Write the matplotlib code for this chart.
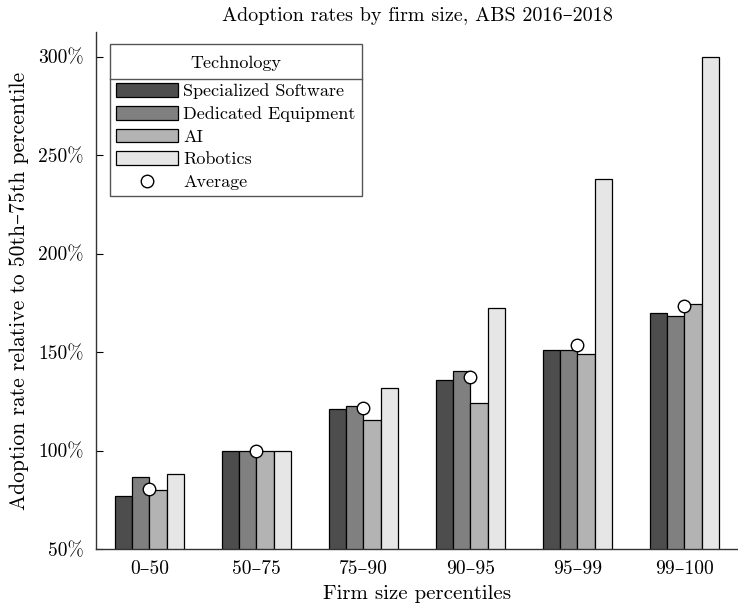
import matplotlib
matplotlib.use("Agg")
from matplotlib import pyplot as plt
from matplotlib.lines import Line2D
from matplotlib.offsetbox import PaddedBox
import numpy as np

plt.rcParams['font.family'] = ['cmr10', 'DejaVu Serif']
plt.rcParams['mathtext.fontset'] = 'cm'
plt.rcParams['axes.formatter.use_mathtext'] = True

## Data: adoption rate relative to the 50th-75th percentile (%) ##
GROUPS = ["0–50", "50–75", "75–90", "90–95", "95–99", "99–100"]
SOFTWARE = [76.9, 100, 121.2, 136.0, 151.2, 169.7]
EQUIPMENT = [86.7, 100, 122.6, 140.2, 151.2, 168.3]
AI = [80.2, 100, 115.3, 124.4, 148.8, 174.6]
ROBOTICS = [87.9, 100, 132.0, 172.4, 237.7, 300.0]
AVERAGE = [80.3, 100, 121.6, 137.5, 153.5, 173.3]
YTICKS = [50, 100, 150, 200, 250, 300]

SERIES = [("Specialized Software", SOFTWARE, "#4d4d4d"),
          ("Dedicated Equipment", EQUIPMENT, "#808080"),
          ("AI", AI, "#b3b3b3"),
          ("Robotics", ROBOTICS, "#e6e6e6")]

fig = plt.figure(figsize=(7.38, 6.06), dpi=100)
ax = fig.add_axes([0.130, 0.094, 0.870, 0.853])

x = np.arange(len(GROUPS))
width = 0.16
handles = []
for i, (name, vals, color) in enumerate(SERIES):
    offs = (i - 1.5) * width
    h = ax.bar(x + offs, vals, width=width, color=color, edgecolor="black",
               linewidth=0.9, label=name, zorder=2)
    handles.append(h)
avg, = ax.plot(x, AVERAGE, linestyle="none", marker="o", markersize=9,
               markerfacecolor="white", markeredgecolor="black",
               markeredgewidth=1.0, label="Average", zorder=3)
handles.append(avg)

ax.set_xlim(-0.5, len(GROUPS) - 0.5)
ax.set_ylim(50, 312.5)
ax.set_yticks(YTICKS)
ax.set_yticklabels([f"{v}%" for v in YTICKS])
ax.set_xticks(x)
ax.set_xticklabels(GROUPS)
ax.tick_params(axis="y", direction="in", length=5, labelsize=14, pad=9)
ax.tick_params(axis="x", length=0, labelsize=14, pad=8)

for side in ["top", "right"]:
    ax.spines[side].set_visible(False)
for side in ["left", "bottom"]:
    ax.spines[side].set_color("#333333")
    ax.spines[side].set_linewidth(1.0)

ax.set_xlabel("Firm size percentiles", fontsize=15, labelpad=5)
ax.set_ylabel("Adoption rate relative to 50th–75th percentile", fontsize=15.5,
              labelpad=6)
ax.set_title("Adoption rates by firm size, ABS 2016–2018", fontsize=14.5, pad=8)

leg = ax.legend(handles=handles, loc="upper left", bbox_to_anchor=(0.022, 0.977),
                title="Technology", fontsize=13, title_fontsize=13,
                fancybox=False, framealpha=1, edgecolor="#555555",
                handlelength=3.4, handleheight=0.8, handletextpad=0.3,
                labelspacing=0.36, borderpad=0.35, borderaxespad=0)
leg.get_frame().set_linewidth(1.0)

# give the legend title its own padded row
title_row = PaddedBox(leg._legend_title_box, pad=4, draw_frame=False)
title_row.set_figure(fig)
leg._legend_box._children[0] = title_row

# rule under the legend title
fig.canvas.draw()
renderer = fig.canvas.get_renderer()
fbox = leg.get_frame().get_window_extent(renderer)
rbox = title_row.get_window_extent(renderer)
hbox = leg._legend_handle_box.get_window_extent(renderer)
yline = 0.5 * (rbox.y0 + hbox.y1) + 1
inv = fig.transFigure.inverted()
(x0, y0), (x1, _) = inv.transform([(fbox.x0, yline), (fbox.x1, yline)])
fig.add_artist(Line2D([x0, x1], [y0, y0], color="#555555", linewidth=1.0,
                      transform=fig.transFigure, zorder=10))

fig.savefig("out.png", dpi=100)
